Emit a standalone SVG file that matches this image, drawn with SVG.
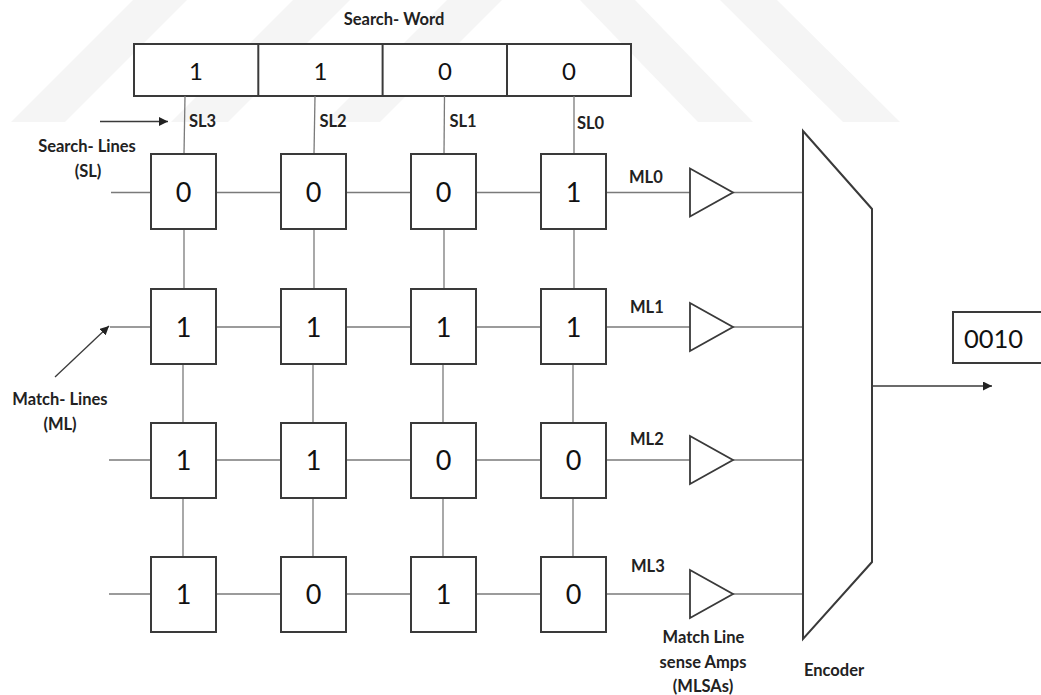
<svg xmlns="http://www.w3.org/2000/svg" width="1041" height="695" viewBox="0 0 1041 695">
<defs>
<style>
.wm{fill:#f5f5f5;stroke:none}
.box{fill:#fff;stroke:#3a3a3a;stroke-width:2}
.cell{fill:#fff;stroke:#3a3a3a;stroke-width:2}
.ln{stroke:#7a7a7a;stroke-width:1.3;fill:none}
.amp{fill:#fff;stroke:#3a3a3a;stroke-width:1.8}
.enc{fill:#fff;stroke:#3a3a3a;stroke-width:2}
.arr{stroke:#3a3a3a;stroke-width:1.3;fill:none}
.dig{font-family:Lato,"Liberation Sans",sans-serif;font-size:27px;fill:#111;text-anchor:middle}
.out{font-family:Lato,"Liberation Sans",sans-serif;font-size:25.5px;fill:#111;text-anchor:middle}
.wd{font-family:Lato,"Liberation Sans",sans-serif;font-size:24px;fill:#111;text-anchor:middle}
.lbl{font-family:Lato,"Liberation Sans",sans-serif;font-size:16.5px;font-weight:bold;fill:#222}
.lblc{font-family:Lato,"Liberation Sans",sans-serif;font-size:16.5px;font-weight:bold;fill:#222;text-anchor:middle}
</style>
<marker id="ah" viewBox="0 0 10 10" refX="10" refY="5" markerWidth="9" markerHeight="9" markerUnits="userSpaceOnUse" orient="auto">
<path d="M0,0 L10,5 L0,10 z" fill="#222"/>
</marker>
</defs>
<rect width="1041" height="695" fill="#fff"/>
<g id="watermark">
<polygon class="wm" points="133,0 187,0 65,122 11,122"/>
<polygon class="wm" points="293,0 350,0 228,122 171,122"/>
<polygon class="wm" points="447,0 502,0 380,122 325,122"/>
<polygon class="wm" points="580,0 635,0 753,122 698,122"/>
<polygon class="wm" points="720,0 777,0 900,122 843,122"/>
</g>
<g id="search-word">
<rect class="box" x="134" y="44" width="497" height="52"/>
<line class="box" x1="258.3" y1="44" x2="258.3" y2="96"/>
<line class="box" x1="382.6" y1="44" x2="382.6" y2="96"/>
<line class="box" x1="507" y1="44" x2="507" y2="96"/>
<text class="wd" x="196" y="80">1</text>
<text class="wd" x="320.5" y="80">1</text>
<text class="wd" x="445" y="80">0</text>
<text class="wd" x="569" y="80">0</text>
<text class="lblc" x="394" y="25">Search- Word</text>
</g>
<g id="connectors">
<line class="ln" x1="185" y1="96" x2="184" y2="154"/>
<line class="ln" x1="315" y1="96" x2="314" y2="154"/>
<line class="ln" x1="444.5" y1="96" x2="444" y2="154"/>
<line class="ln" x1="574" y1="96" x2="574" y2="154"/>
<line class="ln" x1="184" y1="229" x2="184" y2="289"/>
<line class="ln" x1="314" y1="229" x2="314" y2="289"/>
<line class="ln" x1="444" y1="229" x2="444" y2="289"/>
<line class="ln" x1="574" y1="229" x2="574" y2="289"/>
<line class="ln" x1="183" y1="364" x2="183" y2="423"/>
<line class="ln" x1="313" y1="364" x2="313" y2="423"/>
<line class="ln" x1="443" y1="364" x2="443" y2="423"/>
<line class="ln" x1="573" y1="364" x2="573" y2="423"/>
<line class="ln" x1="183" y1="498" x2="183" y2="557"/>
<line class="ln" x1="313" y1="498" x2="313" y2="557"/>
<line class="ln" x1="443" y1="498" x2="443" y2="557"/>
<line class="ln" x1="573" y1="498" x2="573" y2="557"/>
<line class="ln" x1="111" y1="192.5" x2="151" y2="192.5"/>
<line class="ln" x1="216" y1="192.5" x2="281" y2="192.5"/>
<line class="ln" x1="346" y1="192.5" x2="411" y2="192.5"/>
<line class="ln" x1="476" y1="192.5" x2="541" y2="192.5"/>
<line class="ln" x1="606" y1="192.5" x2="690" y2="192.5"/>
<line class="ln" x1="733" y1="192.5" x2="803" y2="192.5"/>
<line class="ln" x1="110" y1="327" x2="151" y2="327"/>
<line class="ln" x1="216" y1="327" x2="281" y2="327"/>
<line class="ln" x1="346" y1="327" x2="411" y2="327"/>
<line class="ln" x1="476" y1="327" x2="541" y2="327"/>
<line class="ln" x1="606" y1="327" x2="690" y2="327"/>
<line class="ln" x1="733" y1="327" x2="803" y2="327"/>
<line class="ln" x1="109" y1="460" x2="151" y2="460"/>
<line class="ln" x1="216" y1="460" x2="281" y2="460"/>
<line class="ln" x1="346" y1="460" x2="411" y2="460"/>
<line class="ln" x1="476" y1="460" x2="541" y2="460"/>
<line class="ln" x1="606" y1="460" x2="690" y2="460"/>
<line class="ln" x1="733" y1="460" x2="803" y2="460"/>
<line class="ln" x1="109" y1="594" x2="151" y2="594"/>
<line class="ln" x1="216" y1="594" x2="281" y2="594"/>
<line class="ln" x1="346" y1="594" x2="411" y2="594"/>
<line class="ln" x1="476" y1="594" x2="541" y2="594"/>
<line class="ln" x1="606" y1="594" x2="690" y2="594"/>
<line class="ln" x1="733" y1="594" x2="803" y2="594"/>
<line class="arr" x1="100" y1="121.5" x2="168" y2="121.5" marker-end="url(#ah)"/>
<line class="arr" x1="55" y1="377" x2="109" y2="326" marker-end="url(#ah)"/>
<line class="arr" x1="872" y1="386" x2="992" y2="386" marker-end="url(#ah)"/>
</g>
<g id="cells">
<g id="r0">
<rect class="cell" x="151" y="154" width="65" height="75"/><text class="dig" x="183.5" y="202">0</text>
<rect class="cell" x="281" y="154" width="65" height="75"/><text class="dig" x="313.5" y="202">0</text>
<rect class="cell" x="411" y="154" width="65" height="75"/><text class="dig" x="443.5" y="202">0</text>
<rect class="cell" x="541" y="154" width="65" height="75"/><text class="dig" x="573.5" y="202">1</text>
</g>
<g id="r1">
<rect class="cell" x="151" y="289" width="65" height="75"/><text class="dig" x="183.5" y="337">1</text>
<rect class="cell" x="281" y="289" width="65" height="75"/><text class="dig" x="313.5" y="337">1</text>
<rect class="cell" x="411" y="289" width="65" height="75"/><text class="dig" x="443.5" y="337">1</text>
<rect class="cell" x="541" y="289" width="65" height="75"/><text class="dig" x="573.5" y="337">1</text>
</g>
<g id="r2">
<rect class="cell" x="151" y="423" width="65" height="75"/><text class="dig" x="183.5" y="470">1</text>
<rect class="cell" x="281" y="423" width="65" height="75"/><text class="dig" x="313.5" y="470">1</text>
<rect class="cell" x="411" y="423" width="65" height="75"/><text class="dig" x="443.5" y="470">0</text>
<rect class="cell" x="541" y="423" width="65" height="75"/><text class="dig" x="573.5" y="470">0</text>
</g>
<g id="r3">
<rect class="cell" x="151" y="557" width="65" height="75"/><text class="dig" x="183.5" y="604">1</text>
<rect class="cell" x="281" y="557" width="65" height="75"/><text class="dig" x="313.5" y="604">0</text>
<rect class="cell" x="411" y="557" width="65" height="75"/><text class="dig" x="443.5" y="604">1</text>
<rect class="cell" x="541" y="557" width="65" height="75"/><text class="dig" x="573.5" y="604">0</text>
</g>
</g>
<g id="amps">
<polygon class="amp" points="690,168.5 733,192.5 690,216.5"/>
<polygon class="amp" points="690,303 733,327 690,351"/>
<polygon class="amp" points="690,436 733,460 690,484"/>
<polygon class="amp" points="690,570 733,594 690,618"/>
</g>
<g id="encoder">
<polygon class="enc" points="803,131 872,209 872,562 803,639"/>
<text class="lblc" x="834" y="676">Encoder</text>
</g>
<g id="output">
<rect class="box" x="953" y="312" width="95" height="51"/>
<text class="out" x="993.5" y="348">0010</text>
</g>
<g id="labels">
<text class="lbl" x="189" y="127">SL3</text>
<text class="lbl" x="319.5" y="127">SL2</text>
<text class="lbl" x="449.5" y="127">SL1</text>
<text class="lbl" x="577" y="129">SL0</text>
<text class="lblc" x="87" y="151.5">Search- Lines</text>
<text class="lblc" x="88" y="177">(SL)</text>
<text class="lblc" x="60" y="405">Match- Lines</text>
<text class="lblc" x="60" y="430">(ML)</text>
<text class="lbl" x="629" y="182.5">ML0</text>
<text class="lbl" x="630" y="313">ML1</text>
<text class="lbl" x="630" y="445">ML2</text>
<text class="lbl" x="631" y="571.5">ML3</text>
<text class="lblc" x="703.5" y="643">Match Line</text>
<text class="lblc" x="703" y="668">sense Amps</text>
<text class="lblc" x="703" y="691.5">(MLSAs)</text>
</g>
</svg>
